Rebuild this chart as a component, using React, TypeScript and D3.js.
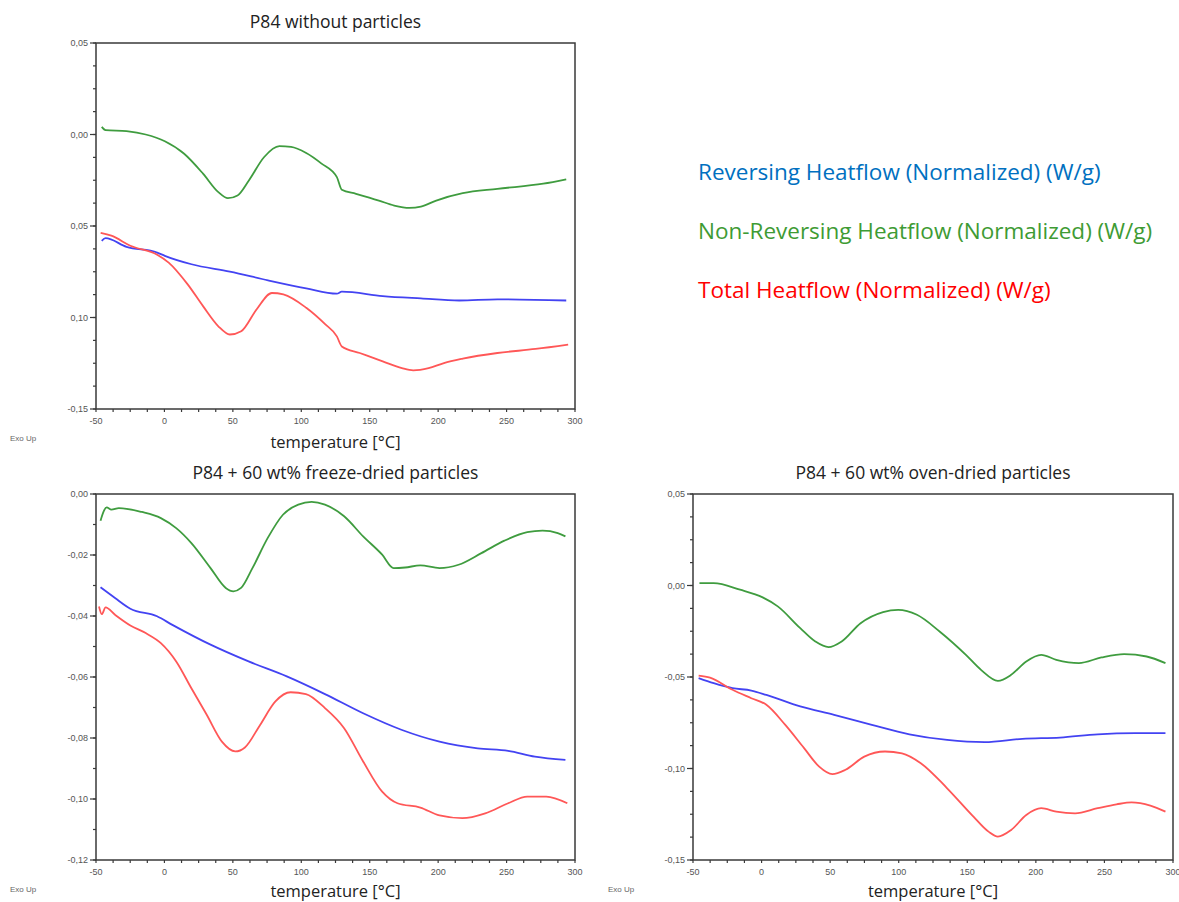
import React from "react";
import * as d3 from "d3";

// temperature (°C), heat flow (W/g)
const p84Reversing: [number, number][] = [
  [-45.8, -0.0581], [-43, -0.0566], [-27.7, -0.0614], [-5.3, -0.0645], [0.3, -0.0663],
  [19.8, -0.0709], [47.8, -0.0749], [75.7, -0.0797], [103.6, -0.0841], [126, -0.087],
  [129.6, -0.0859], [159.5, -0.0883], [187.4, -0.0896], [215.4, -0.0907], [243.3, -0.0901],
  [293.6, -0.0907],
];
const p84NonReversing: [number, number][] = [
  [-45.8, 0.0042], [-43, 0.0024], [-27.7, 0.0018], [-13.7, 0.0], [0.3, -0.0037],
  [14.2, -0.0104], [28.2, -0.0214], [39.4, -0.0315], [46.4, -0.0348], [53.4, -0.0333],
  [61.7, -0.0251], [72.9, -0.0123], [84, -0.0064], [92.5, -0.0068], [103.6, -0.0101],
  [114.8, -0.0159], [126, -0.0233], [129.6, -0.0302], [140, -0.0324], [156.7, -0.0361],
  [167.9, -0.0388], [179, -0.0401], [187.4, -0.0394], [198.6, -0.0361], [218, -0.0321],
  [243.3, -0.0297], [276.8, -0.0269], [293.6, -0.0245],
];
const p84Total: [number, number][] = [
  [-46.6, -0.0538], [-38.8, -0.0553], [-24.9, -0.0608], [-5.3, -0.0657], [3.1, -0.07],
  [17, -0.0819], [28.2, -0.0938], [39.4, -0.1048], [47.8, -0.1093], [56.1, -0.1075],
  [67.3, -0.0956], [78.5, -0.0866], [86.9, -0.0874], [103.6, -0.0947], [117.6, -0.1038],
  [126, -0.1103], [129.6, -0.1158], [142.7, -0.1194], [159.5, -0.124], [173.5, -0.1277],
  [181.8, -0.1289], [193, -0.1277], [204.2, -0.1249], [218, -0.1225], [243.3, -0.1194],
  [271.2, -0.1172], [295, -0.1148],
];

const freezeReversing: [number, number][] = [
  [-46.7, -0.0306], [-36.1, -0.0341], [-24.9, -0.0376], [-5.4, -0.0401], [5.8, -0.0429],
  [33.7, -0.0494], [61.5, -0.0549], [89.4, -0.0598], [117.3, -0.0656], [145.2, -0.0719],
  [173.1, -0.0773], [201, -0.0812], [228.9, -0.0834], [251.2, -0.0842], [270.7, -0.0861],
  [293, -0.0872],
];
const freezeNonReversing: [number, number][] = [
  [-46.7, -0.0088], [-44.4, -0.0057], [-42.2, -0.0044], [-38.8, -0.0051], [-33.3, -0.0046],
  [-16.5, -0.0059], [-2.6, -0.0079], [8.6, -0.0112], [19.7, -0.0161], [33.7, -0.0243],
  [44.8, -0.0308], [50.4, -0.0319], [56, -0.0308], [64.3, -0.0243], [75.5, -0.0144],
  [86.6, -0.0068], [97.8, -0.0035], [107.6, -0.0026], [117.3, -0.0035], [131.3, -0.0073],
  [145.2, -0.0139], [159.1, -0.0199], [167.5, -0.0243], [175.9, -0.0241], [187, -0.0234],
  [201, -0.0243], [214.9, -0.0232], [231.6, -0.0194], [248.4, -0.0153], [265.1, -0.0125],
  [276.3, -0.012], [287.4, -0.0128], [293, -0.0139],
];
const freezeTotal: [number, number][] = [
  [-47.8, -0.0369], [-45.8, -0.0394], [-43, -0.0372], [-36.1, -0.0396], [-24.9, -0.0431],
  [-13.7, -0.0456], [-2.6, -0.0489], [8.6, -0.0549], [19.7, -0.0637], [30.9, -0.0724],
  [42, -0.0812], [51.8, -0.0844], [58.8, -0.0831], [69.9, -0.0757], [81.1, -0.068],
  [92.2, -0.065], [103.4, -0.0656], [117.3, -0.0702], [131.3, -0.0768], [145.2, -0.0877],
  [159.1, -0.0976], [170.3, -0.1014], [187, -0.1028], [201, -0.1054], [217.7, -0.1063],
  [234.4, -0.1047], [251.2, -0.1014], [265.1, -0.0992], [279, -0.0992], [294.4, -0.1014],
];

const ovenReversing: [number, number][] = [
  [-45.9, -0.0506], [-34.9, -0.0534], [-21.2, -0.0561], [-7.5, -0.0574], [3.5, -0.0598],
  [28.2, -0.0661], [52.9, -0.0707], [80.4, -0.0762], [107.8, -0.0813], [135.3, -0.0844],
  [162.7, -0.0856], [190.2, -0.0838], [217.6, -0.0831], [245.1, -0.0813], [272.5, -0.0807],
  [294.5, -0.0807],
];
const ovenNonReversing: [number, number][] = [
  [-45.3, 0.0013], [-34.9, 0.0013], [-15.7, -0.0023], [0.8, -0.0065], [11.8, -0.0114],
  [28.2, -0.0233], [39.2, -0.0306], [48.8, -0.0337], [58.4, -0.0306], [72.2, -0.0206],
  [88.6, -0.0145], [99.6, -0.0133], [113.3, -0.016], [129.8, -0.0251], [149, -0.0379],
  [160, -0.0461], [172.3, -0.0521], [182, -0.0488], [193, -0.0415], [203.9, -0.0379],
  [214.9, -0.0406], [231.4, -0.0424], [247.8, -0.0393], [264.3, -0.0375], [280.8, -0.0388],
  [294.5, -0.0424],
];
const ovenTotal: [number, number][] = [
  [-45.9, -0.0492], [-37.6, -0.0503], [-21.2, -0.057], [-7.5, -0.0616], [3.5, -0.0652],
  [17.3, -0.0762], [31, -0.0889], [42, -0.099], [51.6, -0.1031], [61.2, -0.1007],
  [74.9, -0.0935], [90, -0.0907], [102.4, -0.0917], [116.1, -0.0971], [135.3, -0.1108],
  [154.5, -0.1263], [165.5, -0.1345], [172.3, -0.1372], [182, -0.1336], [193, -0.1254],
  [203.9, -0.1217], [214.9, -0.1236], [228.6, -0.1245], [245.1, -0.1217], [258.8, -0.1196],
  [269.8, -0.1185], [283.5, -0.1203], [294.5, -0.1236],
];

const xTicks = [-50, 0, 50, 100, 150, 200, 250, 300];
const xTickLabels = ["-50", "0", "50", "100", "150", "200", "250", "300"];

const p84YTicks = [0.05, 0, -0.05, -0.1, -0.15];
const p84YLabels = ["0,05", "0,00", "0,05", "0,10", "-0,15"];
const freezeYTicks = [0, -0.02, -0.04, -0.06, -0.08, -0.1, -0.12];
const freezeYLabels = ["0,00", "-0,02", "-0,04", "-0,06", "-0,08", "-0,10", "-0,12"];
const ovenYTicks = [0.05, 0, -0.05, -0.1, -0.15];
const ovenYLabels = ["0,05", "0,00", "-0,05", "-0,10", "-0,15"];

const titles = [
  "P84 without particles",
  "P84 + 60 wt% freeze-dried particles",
  "P84 + 60 wt% oven-dried particles",
];
const legendLabels = [
  "Reversing Heatflow (Normalized) (W/g)",
  "Non-Reversing Heatflow (Normalized) (W/g)",
  "Total Heatflow (Normalized) (W/g)",
];

const LINE_COLORS = { rev: "#4343f2", nonrev: "#3f9c3f", total: "#ff5757" };
const LEGEND_COLORS = ["#0070c0", "#3e9b34", "#ff0000"];
const FONT = "'Open Sans', 'Noto Sans', sans-serif";
const SMALL_FONT = "'Liberation Sans', Arial, sans-serif";

type PanelProps = {
  title: string;
  box: { left: number; right: number; top: number; bottom: number };
  yTicks: number[];
  yLabels: string[];
  yMinorStep: number;
  rev: [number, number][];
  nonrev: [number, number][];
  total: [number, number][];
  exoX: number;
};

const Panel = ({ title, box, yTicks, yLabels, yMinorStep, rev, nonrev, total, exoX }: PanelProps) => {
  const x = d3.scaleLinear().domain([-50, 300]).range([box.left, box.right]);
  const y = d3
    .scaleLinear()
    .domain([d3.min(yTicks)!, d3.max(yTicks)!])
    .range([box.bottom, box.top]);

  const line = d3
    .line<[number, number]>()
    .x((d) => x(d[0]))
    .y((d) => y(d[1]))
    .curve(d3.curveMonotoneX);

  const xMinor = d3.range(-50, 300.001, 12.5);
  const [y0, y1] = y.domain();
  const yMinor = d3.range(0, Math.round((y1 - y0) / yMinorStep) + 1).map((i) => y0 + i * yMinorStep);
  const cx = (box.left + box.right) / 2;

  return (
    <g>
      <text x={cx} y={box.top - 15} textAnchor="middle" fontSize={17.5} fill="#222" fontFamily={FONT}>
        {title}
      </text>

      <path d={line(nonrev)!} fill="none" stroke={LINE_COLORS.nonrev} strokeWidth={1.8} />
      <path d={line(rev)!} fill="none" stroke={LINE_COLORS.rev} strokeWidth={1.8} />
      <path d={line(total)!} fill="none" stroke={LINE_COLORS.total} strokeWidth={1.8} />

      <rect
        x={box.left}
        y={box.top}
        width={box.right - box.left}
        height={box.bottom - box.top}
        fill="none"
        stroke="#3a3a3a"
        strokeWidth={1.5}
      />

      {xMinor.map((t) => (
        <line key={"xm" + t} x1={x(t)} x2={x(t)} y1={box.bottom} y2={box.bottom + 3} stroke="#3a3a3a" strokeWidth={1.2} />
      ))}
      {xTicks.map((t, i) => (
        <text key={"xl" + t} x={x(t)} y={box.bottom + 15} textAnchor="middle" fontSize={9} fill="#555" fontFamily={SMALL_FONT}>
          {xTickLabels[i]}
        </text>
      ))}

      {yMinor.map((v) => (
        <line key={"ym" + v} x1={box.left - 3} x2={box.left} y1={y(v)} y2={y(v)} stroke="#3a3a3a" strokeWidth={1.2} />
      ))}
      {yTicks.map((v, i) => (
        <g key={"yl" + v}>
          <line x1={box.left - 6} x2={box.left} y1={y(v)} y2={y(v)} stroke="#3a3a3a" strokeWidth={1.2} />
          <text x={box.left - 8} y={y(v) + 3} textAnchor="end" fontSize={9} fill="#555" fontFamily={SMALL_FONT}>
            {yLabels[i]}
          </text>
        </g>
      ))}

      <text
        x={cx}
        y={Math.min(box.bottom + 39, 897)}
        textAnchor="middle"
        fontSize={16.5}
        fill="#222"
        fontFamily={FONT}
      >
        temperature [°C]
      </text>
      <text x={exoX} y={box.bottom + 32} fontSize={8} fill="#666" fontFamily={SMALL_FONT}>
        Exo Up
      </text>
    </g>
  );
};

export default function App() {
  return (
    <svg width={1179} height={902} style={{ position: "absolute", left: 0, top: 0, background: "#fff" }}>
      <rect width={1179} height={902} fill="#fff" />
      <Panel
        title={titles[0]}
        box={{ left: 96, right: 575, top: 43, bottom: 409 }}
        yTicks={p84YTicks}
        yLabels={p84YLabels}
        yMinorStep={0.0125}
        rev={p84Reversing}
        nonrev={p84NonReversing}
        total={p84Total}
        exoX={10}
      />
      <Panel
        title={titles[1]}
        box={{ left: 96, right: 575, top: 494, bottom: 860 }}
        yTicks={freezeYTicks}
        yLabels={freezeYLabels}
        yMinorStep={0.01}
        rev={freezeReversing}
        nonrev={freezeNonReversing}
        total={freezeTotal}
        exoX={10}
      />
      <Panel
        title={titles[2]}
        box={{ left: 693, right: 1173, top: 494, bottom: 860 }}
        yTicks={ovenYTicks}
        yLabels={ovenYLabels}
        yMinorStep={0.0125}
        rev={ovenReversing}
        nonrev={ovenNonReversing}
        total={ovenTotal}
        exoX={608}
      />
      {legendLabels.map((label, i) => (
        <text key={label} x={698} y={180 + i * 59} fontSize={22.5} fill={LEGEND_COLORS[i]} fontFamily={FONT}>
          {label}
        </text>
      ))}
    </svg>
  );
}
